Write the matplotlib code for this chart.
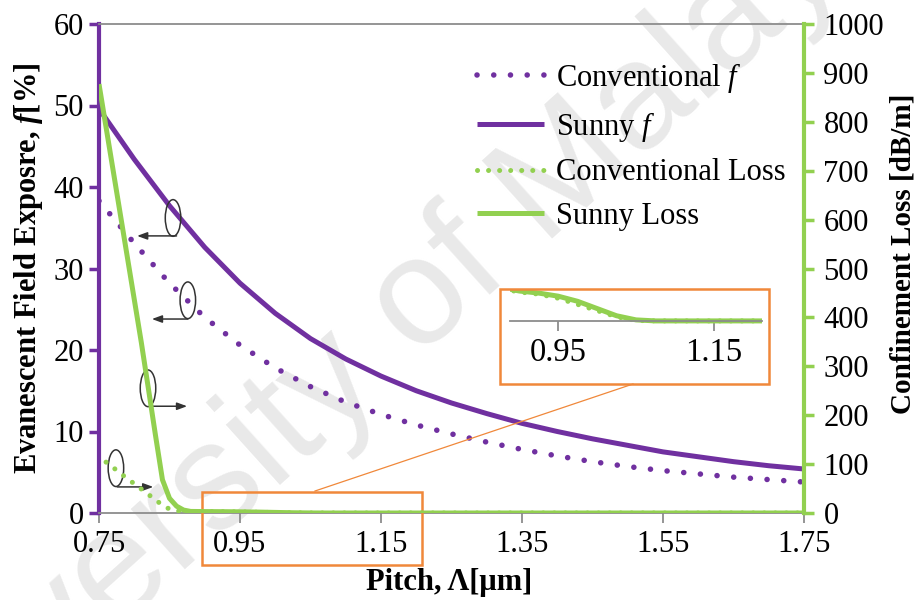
import numpy as np
import matplotlib.pyplot as plt
from matplotlib.patches import Rectangle, Ellipse
from matplotlib.lines import Line2D

plt.rcParams['font.family'] = ['Liberation Serif', 'DejaVu Serif']
plt.rcParams['mathtext.fontset'] = 'custom'
plt.rcParams['mathtext.rm'] = 'Liberation Serif'
plt.rcParams['mathtext.it'] = 'Liberation Serif:italic'
plt.rcParams['mathtext.bf'] = 'Liberation Serif:bold'
plt.rcParams['mathtext.bfit'] = 'Liberation Serif:bold:italic'

PURPLE = '#7030A0'
GREEN = '#92D050'
ORANGE = '#F0883A'
GRAY = '#8C8C8C'

# evanescent field exposure f [%] vs pitch [um]
pitch = [0.75, 0.80, 0.85, 0.90, 0.95, 1.00, 1.05, 1.10, 1.15, 1.20, 1.25,
         1.30, 1.35, 1.40, 1.45, 1.50, 1.55, 1.60, 1.65, 1.70, 1.75]
sunny_f = [49.6, 43.4, 37.7, 32.6, 28.2, 24.5, 21.4, 18.9, 16.8, 15.0, 13.5,
           12.2, 11.0, 10.0, 9.1, 8.3, 7.5, 6.9, 6.3, 5.8, 5.4]
conv_f = [38.3, 33.1, 28.2, 24.0, 20.6, 17.8, 15.5, 13.6, 12.1, 10.8, 9.7,
          8.7, 7.8, 7.0, 6.3, 5.7, 5.2, 4.8, 4.4, 4.1, 3.8]

# confinement loss [dB/m], sampled finer around the cutoff
pitch_loss = [0.75, 0.76, 0.77, 0.78, 0.79, 0.80, 0.81, 0.82, 0.83, 0.84,
              0.85, 0.86, 0.87, 0.88, 0.90, 0.925, 0.95, 0.975, 1.00, 1.025,
              1.05, 1.075, 1.10, 1.20, 1.30, 1.40, 1.50, 1.60, 1.75]
sunny_loss = [877, 789, 701, 613, 525, 437, 349, 255, 160, 68,
              30, 14, 6, 3.2, 2.9, 2.7, 2.4, 1.9, 1.2, 0.5,
              0.1, 0, 0, 0, 0, 0, 0, 0, 0]
conv_loss = [np.nan, 104, 93, 82, 70, 60, 49, 38, 27, 16,
             8, 4.5, 3.4, 3.1, 2.8, 2.6, 2.2, 1.6, 1.0, 0.4,
             0.05, 0, 0, 0, 0, 0, 0, 0, 0]

x_ticks = [0.75, 0.95, 1.15, 1.35, 1.55, 1.75]
inset_ticks = [0.95, 1.15]
zoom_x = (0.888, 1.212)

dot_purple = dict(color=PURPLE, lw=4.0, linestyle=(0, (0.01, 3.0)), dash_capstyle='round')
dot_green = dict(color=GREEN, lw=3.6, linestyle=(0, (0.01, 2.2)), dash_capstyle='round')

fig = plt.figure(figsize=(9.2, 6), dpi=100)
fig.patch.set_facecolor('white')

# faint watermark behind everything
fig.text(0.405, 0.42, 'University of Malaya', rotation=42, fontsize=110,
         family='Liberation Sans', color='#e9e9e9', ha='center', va='center',
         rotation_mode='anchor', zorder=-5)

ax = fig.add_axes([99 / 920, 0.145, 705 / 920, 0.815])
ax.patch.set_visible(False)
ax2 = ax.twinx()

l1, = ax.plot(pitch, conv_f, **dot_purple)
l2, = ax.plot(pitch, sunny_f, color=PURPLE, lw=3.6, solid_capstyle='butt')
l3, = ax2.plot(pitch_loss, conv_loss, **dot_green)
l4, = ax2.plot(pitch_loss, sunny_loss, color=GREEN, lw=3.6, solid_capstyle='butt')

ax.set_xlim(0.75, 1.75)
ax.set_ylim(0, 60)
ax2.set_ylim(0, 1000)
ax.set_xticks(x_ticks)
ax.set_xticklabels([f'{t:.2f}' for t in x_ticks])
ax.set_yticks(range(0, 61, 10))
ax2.set_yticks(range(0, 1001, 100))

ax.spines['right'].set_visible(False)
for s in ('left', 'top', 'bottom'):
    ax2.spines[s].set_visible(False)
ax.spines['left'].set_color(PURPLE)
ax.spines['left'].set_linewidth(3)
ax.spines['top'].set_color(GRAY)
ax.spines['top'].set_linewidth(1.3)
ax.spines['bottom'].set_color(GRAY)
ax.spines['bottom'].set_linewidth(1.3)
ax2.spines['right'].set_color(GREEN)
ax2.spines['right'].set_linewidth(3)

ax.tick_params(axis='y', length=7, width=2.5, color=PURPLE, labelsize=22, pad=4)
ax.tick_params(axis='x', length=7, width=1.3, color=GRAY, labelsize=22, pad=5)
ax2.tick_params(axis='y', length=7, width=2.5, color=GREEN, labelsize=22, pad=7)

ax.set_ylabel(r'Evanescent Field Exposre, $\mathbfit{f}$[%]', fontsize=22, fontweight='bold')
ax.yaxis.set_label_coords(-0.1007, 0.5)
ax.yaxis.label.set_va('center')
ax2.set_ylabel('Confinement Loss [dB/m]', fontsize=21, fontweight='bold', rotation=90)
ax2.yaxis.set_label_coords(1.1404, 0.53)
ax2.yaxis.label.set_va('center')
ax.set_xlabel('Pitch, Λ[μm]', fontsize=22, fontweight='bold')
ax.xaxis.set_label_coords(0.496, -0.142)
ax.xaxis.label.set_va('center')

ax2.legend([l1, l2, l3, l4],
           [r'Conventional $f$', r'Sunny $f$', 'Conventional Loss', 'Sunny Loss'],
           loc='upper left', bbox_to_anchor=(0.536, 0.924), frameon=False,
           fontsize=22, handlelength=2.2, handletextpad=0.4, labelspacing=0.48,
           borderpad=0, borderaxespad=0)

# callout ellipses with arrows pointing to the matching axis
callouts = [
    ((0.855, 36.2), (0.860, 34.0), (0.804, 34.0)),
    ((0.876, 26.1), (0.876, 23.8), (0.825, 23.8)),
    ((0.8195, 15.3), (0.822, 13.1), (0.875, 13.1)),
    ((0.774, 5.5), (0.776, 3.2), (0.827, 3.2)),
]
for centre, start, end in callouts:
    ax.add_patch(Ellipse(centre, 0.022, 4.5, fill=False, ec='#333333', lw=1.1, zorder=5))
    ax.annotate('', xy=end, xytext=start,
                arrowprops=dict(arrowstyle='-|>,head_length=0.6,head_width=0.22',
                                color='#333333', lw=1.1, shrinkA=0, shrinkB=0))

# highlighted region near the cutoff
ax.add_patch(Rectangle((0.896, -6.4), 0.312, 9.0, fill=False, ec=ORANGE, lw=1.8,
                       clip_on=False, zorder=6))

# inset with the zoomed loss tail
axin = fig.add_axes([510 / 920, (600 - 324) / 600, 252 / 920, 34 / 600])
axin.patch.set_visible(False)
axin.plot(pitch_loss, conv_loss, **dot_green)
axin.plot(pitch_loss, sunny_loss, color=GREEN, lw=3.6)
axin.set_xlim(*zoom_x)
axin.set_ylim(-0.3, 3.0)
for s in ('left', 'right', 'top'):
    axin.spines[s].set_visible(False)
axin.spines['bottom'].set_position(('data', 0))
axin.spines['bottom'].set_color(GRAY)
axin.spines['bottom'].set_linewidth(1.3)
axin.set_yticks([])
axin.set_xticks(inset_ticks)
axin.set_xticklabels([f'{t:.2f}' for t in inset_ticks])
axin.tick_params(axis='x', length=7, width=1.3, color=GRAY, labelsize=23.5, pad=5)

fig.patches.append(Rectangle((500 / 920, (600 - 384) / 600), 269 / 920, 95 / 600,
                             fill=False, ec=ORANGE, lw=1.8, transform=fig.transFigure,
                             figure=fig))
fig.lines.append(Line2D([315 / 920, 633 / 920], [(600 - 491) / 600, (600 - 384) / 600],
                        color=ORANGE, lw=0.9, transform=fig.transFigure, figure=fig))

fig.savefig('out.png', dpi=100)
